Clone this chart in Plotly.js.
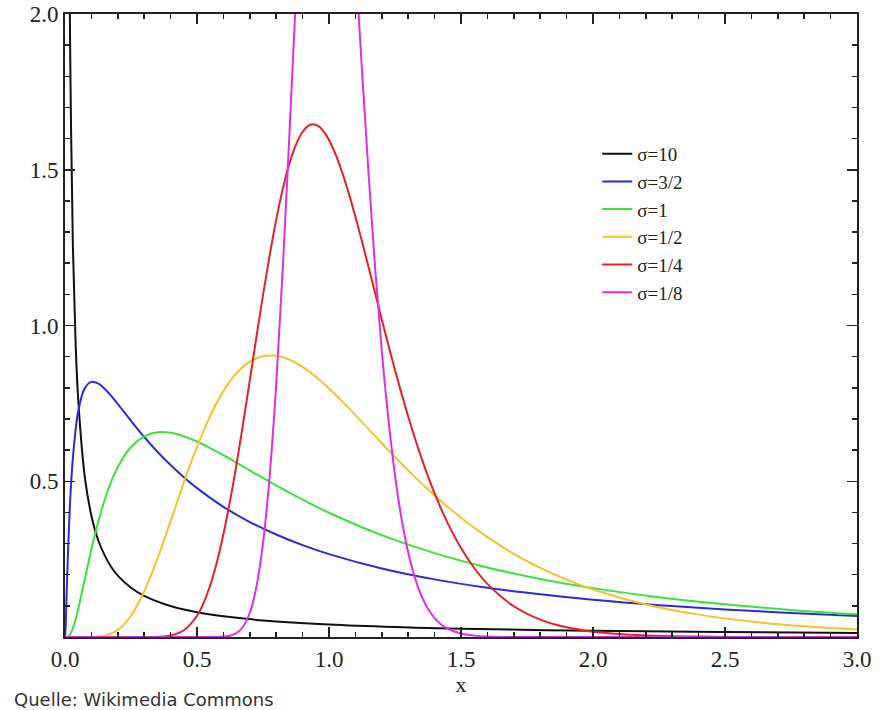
<!DOCTYPE html>
<html>
<head>
<meta charset="utf-8">
<script src="https://cdn.plot.ly/plotly-3.0.1.min.js"></script>
<style>
  html, body { margin: 0; padding: 0; background: #fff; }
  #chart { width: 885px; height: 710px; }
</style>
</head>
<body>
<div id="chart"></div>
<script>
// Series names and colours
const seriesNames = ["σ=10", "σ=3/2", "σ=1", "σ=1/2", "σ=1/4", "σ=1/8"];
const seriesColors = ["#111111", "#2b2bd8", "#3ee03e", "#f5c12e", "#e52028", "#e22ee2"];

// Values (x, density)
const x10 = [0.005, 0.01, 0.015, 0.02, 0.03, 0.04, 0.05, 0.075, 0.1, 0.125, 0.15, 0.175, 0.2, 0.25, 0.3, 0.4, 0.5, 0.6, 0.75, 1.0, 1.25, 1.5, 2.0, 2.5, 3.0];
const y10 = [6.94, 3.59, 2.435, 1.847, 1.25, 0.947, 0.763, 0.514, 0.389, 0.3123, 0.263, 0.2246, 0.197, 0.1581, 0.132, 0.0993, 0.0796, 0.0665, 0.0532, 0.0399, 0.0319, 0.0266, 0.0199, 0.0159, 0.0132];

const x32 = [0, 0.002, 0.005, 0.01, 0.02, 0.03, 0.05, 0.075, 0.1, 0.125, 0.15, 0.175, 0.2, 0.25, 0.3, 0.35, 0.4, 0.45, 0.5, 0.6, 0.7, 0.8, 0.9, 1.0, 1.2, 1.4, 1.6, 1.8, 2.0, 2.25, 2.5, 2.75, 3.0];
const y32 = [0, 0.025, 0.104, 0.239, 0.444, 0.576, 0.724, 0.799, 0.819, 0.814, 0.797, 0.774, 0.748, 0.694, 0.642, 0.5948, 0.552, 0.513, 0.478, 0.418, 0.369, 0.329, 0.2948, 0.266, 0.220, 0.185, 0.158, 0.137, 0.1195, 0.1021, 0.0883, 0.077, 0.0678];

const x1 = [0, 0.01, 0.02, 0.03, 0.04, 0.05, 0.075, 0.1, 0.125, 0.15, 0.175, 0.2, 0.25, 0.3, 0.35, 0.4, 0.45, 0.5, 0.55, 0.6, 0.7, 0.8, 0.9, 1.0, 1.2, 1.4, 1.6, 1.8, 2.0, 2.25, 2.5, 2.75, 3.0];
const y1 = [0, 0.001, 0.0095, 0.0284, 0.0561, 0.0898, 0.186, 0.2815, 0.367, 0.44, 0.499, 0.546, 0.61, 0.644, 0.657, 0.6555, 0.6445, 0.6276, 0.6066, 0.5836, 0.5348, 0.4864, 0.4408, 0.3989, 0.3269, 0.2693, 0.2232, 0.1864, 0.1569, 0.1276, 0.1049, 0.087, 0.0727];

const xHalf = [0, 0.05, 0.1, 0.15, 0.2, 0.25, 0.3, 0.35, 0.4, 0.45, 0.5, 0.55, 0.6, 0.65, 0.7, 0.75, 0.78, 0.8, 0.85, 0.9, 0.95, 1.0, 1.05, 1.1, 1.2, 1.3, 1.4, 1.5, 1.6, 1.7, 1.8, 1.9, 2.0, 2.2, 2.4, 2.6, 2.8, 3.0];
const yHalf = [0, 0, 0.0002, 0.004, 0.0225, 0.0683, 0.1466, 0.2515, 0.372, 0.4954, 0.6104, 0.71, 0.7893, 0.8469, 0.8839, 0.9017, 0.904, 0.9028, 0.8905, 0.867, 0.8355, 0.7979, 0.7563, 0.7123, 0.6222, 0.5349, 0.4545, 0.3829, 0.3206, 0.2672, 0.2221, 0.1842, 0.1526, 0.1046, 0.0718, 0.0494, 0.0342, 0.0238];

const xQuarter = [0, 0.2, 0.3, 0.35, 0.4, 0.45, 0.5, 0.525, 0.55, 0.575, 0.6, 0.625, 0.65, 0.675, 0.7, 0.725, 0.75, 0.775, 0.8, 0.825, 0.85, 0.875, 0.9, 0.925, 0.94, 0.96, 0.975, 1.0, 1.025, 1.05, 1.075, 1.1, 1.125, 1.15, 1.175, 1.2, 1.25, 1.3, 1.35, 1.4, 1.45, 1.5, 1.55, 1.6, 1.7, 1.8, 1.9, 2.0, 2.2, 2.4, 2.6, 3.0];
const yQuarter = [0, 0, 0, 0.0007, 0.0048, 0.0216, 0.0683, 0.1097, 0.1663, 0.2395, 0.33, 0.4361, 0.556, 0.6873, 0.824, 0.9623, 1.0975, 1.2243, 1.339, 1.4386, 1.52, 1.581, 1.622, 1.643, 1.646, 1.640, 1.628, 1.5958, 1.549, 1.491, 1.4236, 1.349, 1.2694, 1.187, 1.103, 1.019, 0.857, 0.7077, 0.575, 0.4608, 0.3646, 0.2857, 0.2215, 0.1704, 0.0987, 0.0559, 0.0311, 0.0171, 0.005, 0.0014, 0, 0];

const xEighth = [0, 0.5, 0.6, 0.625, 0.65, 0.675, 0.7, 0.725, 0.75, 0.775, 0.8, 0.825, 0.85, 0.875, 0.9, 0.95, 0.985, 1.0, 1.05, 1.1, 1.125, 1.15, 1.175, 1.2, 1.225, 1.25, 1.275, 1.3, 1.325, 1.35, 1.375, 1.4, 1.425, 1.45, 1.5, 1.55, 1.6, 1.7, 2.0, 3.0];
const yEighth = [0, 0, 0.0013, 0.0043, 0.0129, 0.0338, 0.0778, 0.1607, 0.301, 0.515, 0.811, 1.184, 1.613, 2.061, 2.486, 3.088, 3.217, 3.1915, 2.817, 2.17, 1.82, 1.486, 1.1815, 0.918, 0.6995, 0.519, 0.3787, 0.2713, 0.1912, 0.1324, 0.0905, 0.0609, 0.0404, 0.0265, 0.011, 0.0044, 0.0017, 0, 0, 0];

const xs = [x10, x32, x1, xHalf, xQuarter, xEighth];
const ys = [y10, y32, y1, yHalf, yQuarter, yEighth];

// Axis ticks
const xTickVals = [0, 0.5, 1.0, 1.5, 2.0, 2.5, 3.0];
const xTickText = ["0.0", "0.5", "1.0", "1.5", "2.0", "2.5", "3.0"];
const yTickVals = [0.5, 1.0, 1.5, 2.0];
const yTickText = ["0.5", "1.0", "1.5", "2.0"];

const traces = seriesNames.map((name, i) => ({
  type: "scatter",
  mode: "lines",
  name: name,
  x: xs[i],
  y: ys[i],
  line: { color: seriesColors[i], width: 2, shape: "spline", smoothing: 1 },
  hoverinfo: "skip"
}));

const serif = "Liberation Serif, Times New Roman, serif";

const layout = {
  width: 885,
  height: 710,
  margin: { l: 65, r: 28, t: 14, b: 73, pad: 0 },
  paper_bgcolor: "#ffffff",
  plot_bgcolor: "#ffffff",
  showlegend: true,
  legend: {
    x: 0.672, y: 0.806, xanchor: "left", yanchor: "top",
    bgcolor: "rgba(0,0,0,0)",
    font: { family: serif, size: 19, color: "#222" },
    tracegroupgap: 0,
    itemwidth: 30
  },
  xaxis: {
    range: [0, 3],
    tickvals: xTickVals,
    ticktext: xTickText,
    ticks: "inside",
    ticklen: 10,
    tickwidth: 1.5,
    tickcolor: "#222",
    minor: { dtick: 0.1, tick0: 0, ticks: "inside", ticklen: 5, tickwidth: 1.5, tickcolor: "#222", showgrid: false },
    showline: true,
    linecolor: "#222",
    linewidth: 2,
    mirror: "allticks",
    showgrid: false,
    zeroline: false,
    tickfont: { family: serif, size: 23, color: "#222" },
    title: { text: "x", font: { family: serif, size: 22, color: "#222" }, standoff: 6 }
  },
  yaxis: {
    range: [0, 2],
    tickvals: yTickVals,
    ticktext: yTickText,
    ticks: "inside",
    ticklen: 10,
    tickwidth: 1.5,
    tickcolor: "#222",
    minor: { dtick: 0.1, tick0: 0, ticks: "inside", ticklen: 5, tickwidth: 1.5, tickcolor: "#222", showgrid: false },
    showline: true,
    linecolor: "#222",
    linewidth: 2,
    mirror: "allticks",
    showgrid: false,
    zeroline: false,
    tickfont: { family: serif, size: 23, color: "#222" }
  },
  annotations: [{
    text: "Quelle: Wikimedia Commons",
    xref: "paper", yref: "paper",
    x: -53 / 792, y: -62 / 623,
    xanchor: "left", yanchor: "middle",
    showarrow: false,
    font: { family: "DejaVu Sans, Verdana, sans-serif", size: 18, color: "#333" }
  }]
};

Plotly.newPlot("chart", traces, layout, { displayModeBar: false, staticPlot: true });
</script>
</body>
</html>
